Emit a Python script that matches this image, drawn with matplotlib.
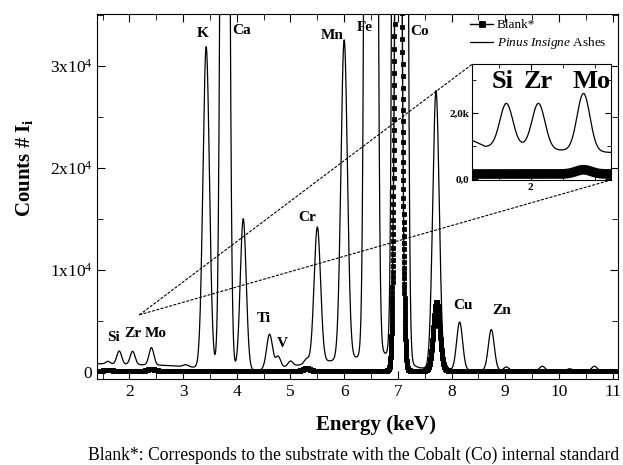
import numpy as np
import matplotlib
matplotlib.use("Agg")
import matplotlib.pyplot as plt
from matplotlib.patches import ConnectionPatch
from matplotlib.ticker import MultipleLocator, FixedLocator

plt.rcParams['font.family'] = ['Liberation Serif', 'DejaVu Serif']
plt.rcParams['mathtext.fontset'] = 'custom'
plt.rcParams['mathtext.rm'] = 'Liberation Serif'
plt.rcParams['mathtext.it'] = 'Liberation Serif:italic'
plt.rcParams['mathtext.bf'] = 'Liberation Serif:bold'

# Espectro de cenizas (Pinus insigne): fondo y picos (energía keV, altura, sigma)
bg_energy = [1.4, 2.6, 3.2, 4.4, 5.2, 6.2, 6.75, 7.4, 8.0, 9.5, 11.1]
bg_counts = [800, 650, 450, 150, 700, 1400, 1800, 400, 200, 100, 100]
ash_energy = [1.60, 1.81, 2.06, 2.41, 3.05, 3.43, 3.78, 4.12, 4.61, 4.77, 5.00, 5.30,
              5.50, 6.00, 6.50, 7.04, 7.71, 8.15, 8.74, 9.02, 9.69, 10.20, 10.66]
ash_height = [250, 1300, 1300, 1700, 200, 31500, 182000, 14800, 3400, 1100, 500, 500,
              13300, 31300, 535000, 1230000, 27300, 4700, 4000, 350, 450, 200, 450]
ash_sigma = [0.04, 0.045, 0.045, 0.045, 0.05, 0.06, 0.055, 0.055, 0.055, 0.045, 0.045, 0.045,
             0.06, 0.06, 0.06, 0.06, 0.06, 0.055, 0.055, 0.045, 0.05, 0.05, 0.05]

# Blanco (sustrato con Co)
blank_base = 120
blank_energy = [1.60, 2.41, 5.30, 7.01, 7.72]
blank_height = [80, 200, 250, 96000, 6700]
blank_sigma = [0.05, 0.05, 0.05, 0.05, 0.06]

# Datos del recuadro (zoom Si, Zr, Mo)
inset_bg_energy = [1.50, 1.65, 1.93, 2.20, 2.65]
inset_bg_counts = [1250, 980, 1000, 880, 800]
inset_energy = [1.81, 2.06, 2.41]
inset_height = [1300, 1350, 1750]
inset_sigma = [0.05, 0.05, 0.05]
inset_blank_base = 150
inset_blank_peak = 130

labels = [("K", 3.36, 33200), ("Ca", 4.09, 33500), ("Mn", 5.78, 33000),
          ("Fe", 6.38, 33800), ("Co", 7.40, 33400), ("Cr", 5.31, 15100),
          ("Ti", 4.50, 5200), ("V", 4.85, 2750), ("Si", 1.70, 3400),
          ("Zr", 2.07, 3800), ("Mo", 2.50, 3800), ("Cu", 8.22, 6500),
          ("Zn", 8.93, 6000)]


def spectrum(x, bx, by, e, h, s):
    y = np.interp(x, bx, by) if np.ndim(by) else np.full_like(x, by)
    for ei, hi, si in zip(e, h, s):
        y = y + hi * np.exp(-(x - ei) ** 2 / (2 * si ** 2))
    return y


x = np.arange(1.4, 11.1, 0.004)
ash = spectrum(x, bg_energy, bg_counts, ash_energy, ash_height, ash_sigma)
xb = np.arange(1.4, 11.1, 0.0013)
blank = spectrum(xb, None, blank_base, blank_energy, blank_height, blank_sigma)

fig = plt.figure(figsize=(6.23, 4.65), dpi=100)
ax = fig.add_axes([0.156, 0.185, 0.836, 0.785])

ax.plot(xb, blank, color='black', lw=1.0, marker='s', ms=3.4, mew=0.6, mec='black',
        label='Blank*', zorder=2)
ax.plot(x, ash, color='black', lw=0.9, label=r'$\it{Pinus\ Insigne}$ Ashes', zorder=3)

ax.set_xlim(1.4, 11.1)
ax.set_ylim(-700, 35100)
ax.xaxis.set_major_locator(MultipleLocator(1))
ax.xaxis.set_minor_locator(MultipleLocator(0.5))
ax.yaxis.set_major_locator(FixedLocator([0, 10000, 20000, 30000]))
ax.yaxis.set_minor_locator(MultipleLocator(5000))
ax.set_yticklabels(['0', r'1x10$^{4}$', r'2x10$^{4}$', r'3x10$^{4}$'])
ax.tick_params(which='both', direction='in', top=True, right=True, labelsize=12.5)
ax.tick_params(which='major', length=6)
ax.tick_params(which='minor', length=4)
ax.set_xlabel('Energy (keV)', fontsize=15, fontweight='bold')
ax.set_ylabel(r'Counts # I$_\mathbf{i}$', fontsize=15, fontweight='bold')
ax.xaxis.set_label_coords(0.535, -0.098)
ax.yaxis.set_label_coords(-0.12, 0.58)

for name, xe, ye in labels:
    ax.text(xe, ye, name, fontsize=11, fontweight='bold', ha='center', va='center')

leg = ax.legend(loc='upper right', bbox_to_anchor=(0.988, 1.0), frameon=False, fontsize=9.5,
                handlelength=1.7, handletextpad=0.3, labelspacing=0.3, borderaxespad=0)
leg.legend_handles[0].set_markersize(4)

# Recuadro
ins = fig.add_axes([0.758, 0.613, 0.223, 0.249])
xi = np.arange(1.5, 2.65, 0.004)
ins_ash = spectrum(xi, inset_bg_energy, inset_bg_counts, inset_energy, inset_height, inset_sigma)
ins_blank = spectrum(xi, None, inset_blank_base, [2.41], [inset_blank_peak], [0.06])
ins.plot(xi, ins_blank, color='black', lw=7, solid_capstyle='butt')
ins.plot(xi, ins_ash, color='black', lw=0.9)
ins.set_xlim(1.545, 2.625)
ins.set_ylim(-30, 3480)
ins.xaxis.set_major_locator(FixedLocator([2]))
ins.xaxis.set_minor_locator(FixedLocator([1.75, 2.25, 2.5]))
ins.yaxis.set_major_locator(FixedLocator([0, 2000]))
ins.yaxis.set_minor_locator(FixedLocator([1000, 3000]))
ins.set_yticklabels(['0,0', '2,0k'])
ins.tick_params(which='both', direction='in', top=True, right=True, labelsize=8, pad=2)
ins.tick_params(which='major', length=4)
ins.tick_params(which='minor', length=3)
for t in ins.get_xticklabels() + ins.get_yticklabels():
    t.set_fontweight('bold')
for name, xe in zip(['Si', 'Zr', 'Mo'], [1.78, 2.06, 2.47]):
    ins.text(xe, 2950, name, fontsize=19, fontweight='bold', ha='center', va='center')

for corner in [(0, 1), (1, 0)]:
    con = ConnectionPatch(xyA=(2.19, 5600), coordsA=ax.transData,
                          xyB=corner, coordsB=ins.transAxes,
                          color='black', lw=0.8, linestyle=(0, (2, 2)))
    fig.add_artist(con)

fig.text(0.141, 0.0215, 'Blank*: Corresponds to the substrate with the Cobalt (Co) internal standard',
         fontsize=12.7, ha='left', va='center')

fig.savefig('out.png', dpi=100)
